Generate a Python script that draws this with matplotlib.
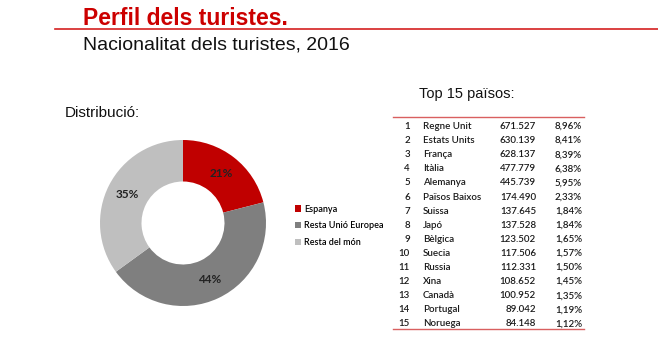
import matplotlib.pyplot as plt
from matplotlib.lines import Line2D

W, H = 658, 347

# distribució per procedència
groups = ['Espanya', 'Resta Unió Europea', 'Resta del món']
shares = [21, 44, 35]
colors = ['#C00000', '#7F7F7F', '#BFBFBF']

# top 15 països
ranks = list(range(1, 16))
countries = ['Regne Unit', 'Estats Units', 'França', 'Itàlia', 'Alemanya',
             'Països Baixos', 'Suissa', 'Japó', 'Bèlgica', 'Suecia',
             'Russia', 'Xina', 'Canadà', 'Portugal', 'Noruega']
tourists = ['671.527', '630.139', '628.137', '477.779', '445.739',
            '174.490', '137.645', '137.528', '123.502', '117.506',
            '112.331', '108.652', '100.952', '89.042', '84.148']
pcts = ['8,96%', '8,41%', '8,39%', '6,38%', '5,95%', '2,33%', '1,84%',
        '1,84%', '1,65%', '1,57%', '1,50%', '1,45%', '1,35%', '1,19%', '1,12%']

fig = plt.figure(figsize=(W / 100, H / 100), dpi=100)
fig.patch.set_facecolor('white')


def fx(x):
    return x / W


def fy(y):
    return 1 - y / H


def txt(x, y, s, **kw):
    fig.text(fx(x), fy(y), s, **kw)


# header
txt(83, 25, 'Perfil dels turistes.', color='#CC0000', fontsize=16.5,
    fontweight='bold', family='Liberation Sans', va='baseline')
fig.add_artist(Line2D([fx(55), 1], [fy(29), fy(29)], color='#D42020', lw=1.2))
txt(83, 49, 'Nacionalitat dels turistes, 2016', color='#111111', fontsize=14,
    family='Liberation Sans', va='baseline')

# donut
txt(65, 117, 'Distribució:', color='#111111', fontsize=11,
    family='Liberation Sans', va='baseline')
cx, cy, r = 183, 223, 83
half = 95
ax = fig.add_axes([fx(cx - half), fy(cy + half), 2 * half / W, 2 * half / H])
wedges, _, autotexts = ax.pie(shares, colors=colors, startangle=90, counterclock=False,
                              radius=1, autopct='%d%%', pctdistance=0.75,
                              wedgeprops=dict(width=0.5, linewidth=0),
                              textprops=dict(fontsize=8.5, color='#222222', family='Lato',
                                             fontweight='bold'))
lim = half / r
ax.set_xlim(-lim, lim)
ax.set_ylim(-lim, lim)
ax.set_aspect('equal')
ax.axis('off')

fig.legend(wedges, groups, loc='upper left', bbox_to_anchor=(fx(290), fy(200)),
           frameon=False, handlelength=0.7, handleheight=0.7, handletextpad=0.4,
           labelspacing=0.85, prop=dict(family='Lato', size=6.5, weight='semibold'),
           borderpad=0)

# table
txt(419, 98, 'Top 15 països:', color='#111111', fontsize=10.5,
    family='Liberation Sans', va='baseline')
fig.add_artist(Line2D([fx(393), fx(584)], [fy(117), fy(117)], color='#D96060', lw=1.0))
fig.add_artist(Line2D([fx(393), fx(584)], [fy(329), fy(329)], color='#D96060', lw=1.0))
y0, step = 126.5, 14.1
for i, (rk, name, val, pc) in enumerate(zip(ranks, countries, tourists, pcts)):
    y = y0 + i * step
    kw = dict(fontsize=7, color='#1A1A1A', family='Lato', fontweight='semibold',
              va='center')
    txt(410, y, str(rk), ha='right', **kw)
    txt(423, y, name, ha='left', **kw)
    txt(536, y, val, ha='right', **kw)
    txt(582, y, pc, ha='right', **kw)

fig.savefig('out.png', dpi=100, facecolor='white')
